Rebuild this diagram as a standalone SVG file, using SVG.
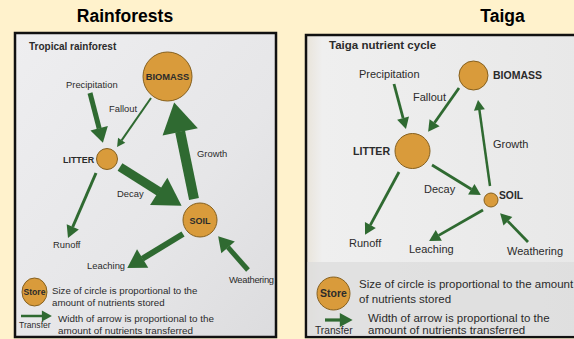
<svg xmlns="http://www.w3.org/2000/svg" width="574" height="339" viewBox="0 0 574 339">
<defs>
<marker id="ah" markerUnits="strokeWidth" markerWidth="3" markerHeight="3.6" viewBox="0 0 3 3.6" refX="0.05" refY="1.8" orient="auto" overflow="visible"><path d="M0,0 L3,1.8 L0,3.6 z" fill="#2f6a31"/></marker>
<marker id="ahs" markerUnits="strokeWidth" markerWidth="4" markerHeight="4.4" viewBox="0 0 4 4.4" refX="0.05" refY="2.2" orient="auto" overflow="visible"><path d="M0,0 L4,2.2 L0,4.4 z" fill="#2f6a31"/></marker>
<linearGradient id="gl" x1="0" y1="0" x2="1" y2="1"><stop offset="0" stop-color="#eeeef0"/><stop offset="0.6" stop-color="#e6e6e8"/><stop offset="1" stop-color="#dcdcde"/></linearGradient>
<linearGradient id="gr" x1="0" y1="0" x2="1" y2="0"><stop offset="0" stop-color="#e9e4da"/><stop offset="0.06" stop-color="#efefef"/><stop offset="1" stop-color="#e8e8e8"/></linearGradient>
</defs>
<style>
.t{font-family:"Liberation Sans",Arial,sans-serif;fill:#2b2b2b}
.h{font-family:"Liberation Sans",Arial,sans-serif;font-weight:bold;fill:#000;font-size:17.5px;text-anchor:middle}
.b{font-weight:bold}
.l{font-size:9.4px}
.r{font-size:11px}
.c{fill:#d99b3b;stroke:#85601f;stroke-width:1}
.a{stroke:#2f6a31;fill:none;stroke-linecap:butt}
.m{text-anchor:middle}
</style>
<rect x="0" y="0" width="574" height="339" fill="#fff2cc"/>
<text class="h" x="125" y="22">Rainforests</text>
<text class="h" x="502.5" y="22">Taiga</text>

<g id="panel-rainforest">
<rect x="15" y="33" width="261" height="304" fill="url(#gl)" stroke="#111" stroke-width="2.5"/>
<text class="t b" x="29" y="50" font-size="10px">Tropical rainforest</text>
</g>
<g id="panel-taiga">
<rect x="306" y="35" width="272" height="302" fill="url(#gr)" stroke="#111" stroke-width="2.5"/>
<rect x="307.5" y="262" width="268" height="74" fill="#dcdcdc" opacity="0.7"/>
<text class="t b" x="329" y="49" font-size="11.5px">Taiga nutrient cycle</text>
</g>

<g id="connectors">
<line class="a" x1="90" y1="93" x2="99.2" y2="128.5" stroke-width="5" marker-end="url(#ah)"/>
<line class="a" x1="151" y1="98" x2="121.6" y2="140.4" stroke-width="2" marker-end="url(#ahs)"/>
<line class="a" x1="194" y1="199" x2="180.1" y2="131.4" stroke-width="10" marker-end="url(#ah)"/>
<line class="a" x1="120" y1="167" x2="159.1" y2="191.6" stroke-width="9" marker-end="url(#ah)"/>
<line class="a" x1="96" y1="173" x2="72.7" y2="227" stroke-width="3" marker-end="url(#ahs)"/>
<line class="a" x1="183" y1="234" x2="142.4" y2="258.7" stroke-width="6" marker-end="url(#ah)"/>
<line class="a" x1="248" y1="270" x2="227.9" y2="247.2" stroke-width="5" marker-end="url(#ah)"/>
<line class="a" x1="21" y1="316" x2="42" y2="316" stroke-width="2.5" marker-end="url(#ahs)"/>

<line class="a" x1="394" y1="84" x2="403.1" y2="118.2" stroke-width="2.8" marker-end="url(#ahs)"/>
<line class="a" x1="459" y1="88" x2="434.5" y2="122.8" stroke-width="2.8" marker-end="url(#ahs)"/>
<line class="a" x1="490" y1="186" x2="479.4" y2="109.9" stroke-width="2.5" marker-end="url(#ahs)"/>
<line class="a" x1="432" y1="165" x2="471.4" y2="189.2" stroke-width="2.8" marker-end="url(#ahs)"/>
<line class="a" x1="399" y1="172" x2="370.3" y2="225.1" stroke-width="2.8" marker-end="url(#ahs)"/>
<line class="a" x1="483" y1="210" x2="438.7" y2="235.4" stroke-width="2.8" marker-end="url(#ahs)"/>
<line class="a" x1="528" y1="242" x2="507.8" y2="221.1" stroke-width="2.8" marker-end="url(#ahs)"/>
<line class="a" x1="325" y1="320" x2="340" y2="320" stroke-width="3.2" marker-end="url(#ahs)"/>

<text class="t l" x="66" y="88">Precipitation</text>
<text class="t l" x="109" y="112">Fallout</text>
<text class="t l" x="197" y="157">Growth</text>
<text class="t l" x="117" y="197">Decay</text>
<text class="t l" x="53" y="248">Runoff</text>
<text class="t l" x="87" y="269">Leaching</text>
<text class="t l" x="229" y="283" textLength="45">Weathering</text>

<text class="t r" x="359" y="78">Precipitation</text>
<text class="t r" x="413" y="101">Fallout</text>
<text class="t r" x="493" y="148">Growth</text>
<text class="t r" x="424" y="193">Decay</text>
<text class="t r" x="349" y="247">Runoff</text>
<text class="t r" x="409" y="253">Leaching</text>
<text class="t r" x="507" y="255">Weathering</text>
</g>

<g id="rf-biomass"><circle class="c" cx="167.5" cy="76.5" r="24.5"/><text class="t b m" x="167.5" y="80" font-size="9.3px">BIOMASS</text></g>
<g id="rf-litter"><circle class="c" cx="107" cy="159" r="10.5"/><text class="t b" x="63" y="162.5" font-size="8.9px">LITTER</text></g>
<g id="rf-soil"><circle class="c" cx="200" cy="220" r="17"/><text class="t b m" x="200" y="223.5" font-size="9px">SOIL</text></g>

<g id="tg-biomass"><circle class="c" cx="473.5" cy="75.5" r="14.5"/><text class="t b" x="493" y="79" font-size="10.5px">BIOMASS</text></g>
<g id="tg-litter"><circle class="c" cx="412.5" cy="151" r="17.5"/><text class="t b" x="353" y="154.5" font-size="10.6px">LITTER</text></g>
<g id="tg-soil"><circle class="c" cx="491" cy="200" r="7"/><text class="t b" x="499" y="198.5" font-size="10.3px">SOIL</text></g>

<g id="rf-legend">
<ellipse class="c" cx="34.5" cy="292" rx="12.5" ry="14"/>
<text class="t b m" x="34.5" y="295" font-size="8.6px">Store</text>
<text class="t" x="52" y="294" font-size="9.7px">Size of circle is proportional to the</text>
<text class="t" x="52" y="306" font-size="9.7px">amount of nutrients stored</text>
<text class="t" x="58" y="322" font-size="9.9px">Width of arrow is proportional to the</text>
<text class="t" x="58" y="334" font-size="9.9px">amount of nutrients transferred</text>
<text class="t" x="19" y="328" font-size="8.6px">Transfer</text>
</g>
<g id="tg-legend">
<circle class="c" cx="333.5" cy="293.5" r="16.5"/>
<text class="t b m" x="333.5" y="297" font-size="10.5px">Store</text>
<text class="t" x="359" y="288" font-size="11.5px">Size of circle is proportional to the amount</text>
<text class="t" x="359" y="303" font-size="11.5px">of nutrients stored</text>
<text class="t" x="368" y="322" font-size="11.5px">Width of arrow is proportional to the</text>
<text class="t" x="368" y="334" font-size="11.5px">amount of nutrients transferred</text>
<text class="t" x="315" y="334" font-size="10.2px">Transfer</text>
</g>
</svg>
